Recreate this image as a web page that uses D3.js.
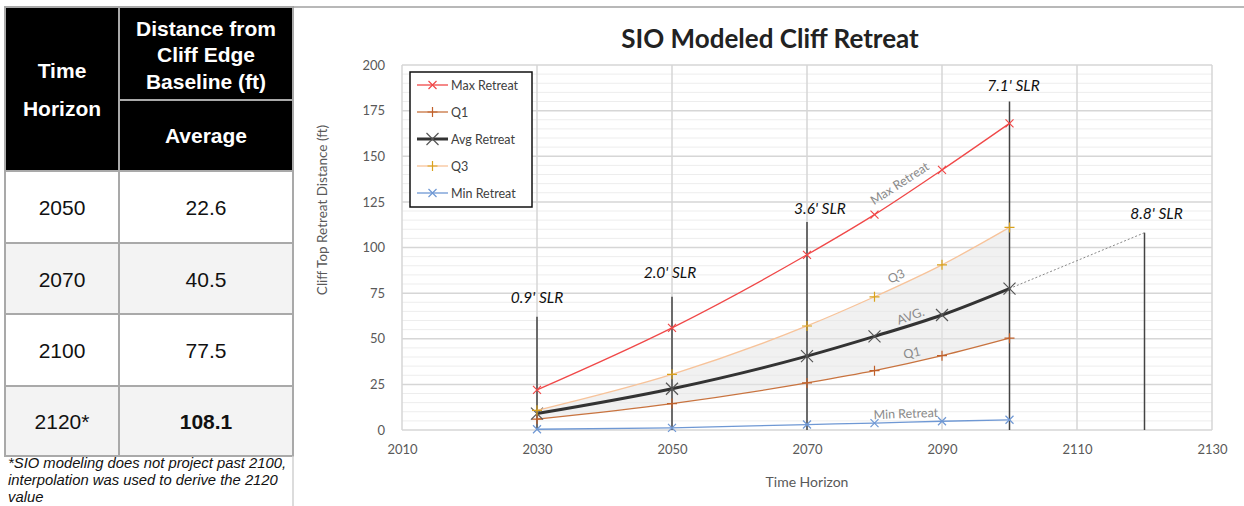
<!DOCTYPE html>
<html>
<head>
<meta charset="utf-8">
<script src="https://cdn.jsdelivr.net/npm/d3@7"></script>
<style>
  body { margin: 0; background: #fff; }
  svg { display: block; }
</style>
</head>
<body>
<svg id="chart" width="1244" height="506"></svg>
<script>
// table data
var tableYears = ["2050", "2070", "2100", "2120*"];
var tableAvg = ["22.6", "40.5", "77.5", "108.1"];

// chart data
var years = [2030, 2050, 2070, 2080, 2090, 2100];
var maxRetreat = [22, 56, 96, 118, 142.5, 168];
var q3 = [10.8, 30.5, 57, 73, 90.5, 111];
var avgRetreat = [9, 22.6, 40.5, 51.3, 63, 77.5];
var q1 = [6, 14.5, 25.8, 32.5, 40.7, 50.3];
var minRetreat = [0.4, 1.2, 3, 3.8, 4.8, 5.6];

var extYears = [2100, 2120];
var extAvg = [77.5, 108.1];

var slrYears = [2030, 2050, 2070, 2100, 2120];
var slrTops = [62, 73, 114, 180, 108.1];
var slrLabels = ["0.9' SLR", "2.0' SLR", "3.6' SLR", "7.1' SLR", "8.8' SLR"];

var xTicks = [2010, 2030, 2050, 2070, 2090, 2110, 2130];
var yTicks = [0, 25, 50, 75, 100, 125, 150, 175, 200];

var svg = d3.select("#chart");

// ---------- table on the left ----------
var tbl = svg.append("g");
var border = "#a9a9a9";
var rowTops = [171, 243, 314, 386];
var rowH = [72, 71, 72, 70];

tbl.append("rect").attr("x", 5).attr("y", 7).attr("width", 288).attr("height", 164).attr("fill", "#000");
rowTops.forEach(function(t, i) {
    tbl.append("rect").attr("x", 5).attr("y", t).attr("width", 288).attr("height", rowH[i])
        .attr("fill", i % 2 == 1 ? "#f3f3f3" : "#fff");
});
// grid lines of the table
tbl.append("rect").attr("x", 5).attr("y", 7).attr("width", 288).attr("height", 449)
    .attr("fill", "none").attr("stroke", border).attr("stroke-width", 2);
tbl.append("line").attr("x1", 119).attr("x2", 119).attr("y1", 7).attr("y2", 456)
    .attr("stroke", border).attr("stroke-width", 2);
tbl.append("line").attr("x1", 119).attr("x2", 293).attr("y1", 100).attr("y2", 100)
    .attr("stroke", border).attr("stroke-width", 2);
rowTops.forEach(function(t) {
    tbl.append("line").attr("x1", 5).attr("x2", 293).attr("y1", t).attr("y2", t)
        .attr("stroke", border).attr("stroke-width", 2);
});
tbl.append("line").attr("x1", 293).attr("x2", 293).attr("y1", 456).attr("y2", 506)
    .attr("stroke", "#d0d0d0").attr("stroke-width", 1.5);

var hdrFont = "'Liberation Sans', Arial, sans-serif";
function hdr(txt, x, y) {
    tbl.append("text").attr("x", x).attr("y", y).attr("text-anchor", "middle")
        .attr("font-family", hdrFont).attr("font-size", 21).attr("font-weight", "bold")
        .attr("fill", "#fff").text(txt);
}
hdr("Time", 62, 78);
hdr("Horizon", 62, 116);
hdr("Distance from", 206, 36);
hdr("Cliff Edge", 206, 62);
hdr("Baseline (ft)", 206, 89);
hdr("Average", 206, 143);

tableYears.forEach(function(yr, i) {
    var cy = rowTops[i] + rowH[i] / 2 + 8;
    tbl.append("text").attr("x", 62).attr("y", cy).attr("text-anchor", "middle")
        .attr("font-family", hdrFont).attr("font-size", 21).attr("fill", "#111").text(yr);
    tbl.append("text").attr("x", 206).attr("y", cy).attr("text-anchor", "middle")
        .attr("font-family", hdrFont).attr("font-size", 21)
        .attr("font-weight", i == tableYears.length - 1 ? "bold" : "normal")
        .attr("fill", "#111").text(tableAvg[i]);
});

var notes = ["*SIO modeling does not project past 2100,", "interpolation was used to derive the 2120", "value"];
notes.forEach(function(n, i) {
    tbl.append("text").attr("x", 8).attr("y", 468 + i * 17)
        .attr("font-family", hdrFont).attr("font-size", 14.8).attr("font-style", "italic")
        .attr("fill", "#111").text(n);
});

// frame line at the top of the chart
svg.append("line").attr("x1", 293).attr("x2", 1244).attr("y1", 7).attr("y2", 7)
    .attr("stroke", "#a0a0a0").attr("stroke-width", 1.5);

// ---------- chart ----------
var font = "Lato, 'Open Sans', sans-serif";
var x = d3.scaleLinear().domain([2010, 2130]).range([402, 1212]);
var y = d3.scaleLinear().domain([0, 200]).range([430, 65]);

var chart = svg.append("g");

// minor grid
chart.append("g").selectAll("line")
    .data(d3.range(0, 201, 5))
    .enter().append("line")
    .attr("x1", x(2010)).attr("x2", x(2130))
    .attr("y1", function(d) { return y(d); }).attr("y2", function(d) { return y(d); })
    .attr("stroke", function(d) { return d % 25 == 0 ? "#d6d6d6" : "#ededed"; })
    .attr("stroke-width", function(d) { return d % 25 == 0 ? 1.5 : 1; });

chart.append("g").selectAll("line")
    .data(xTicks)
    .enter().append("line")
    .attr("x1", function(d) { return x(d); }).attr("x2", function(d) { return x(d); })
    .attr("y1", y(0)).attr("y2", y(200))
    .attr("stroke", "#d6d6d6").attr("stroke-width", 1.5);

// axes
var yAxis = chart.append("g").attr("transform", "translate(" + (x(2010) - 14) + ",0)")
    .call(d3.axisLeft(y).tickValues(yTicks).tickSize(0));
var xAxis = chart.append("g").attr("transform", "translate(0," + (y(0) + 12) + ")")
    .call(d3.axisBottom(x).tickValues(xTicks).tickFormat(d3.format("d")).tickSize(0));
[yAxis, xAxis].forEach(function(a) {
    a.select(".domain").remove();
    a.selectAll("text").attr("font-family", font).attr("font-size", 13).attr("fill", "#595959");
});

chart.append("text").attr("x", 807).attr("y", 487).attr("text-anchor", "middle")
    .attr("font-family", font).attr("font-size", 14).attr("fill", "#595959").text("Time Horizon");
chart.append("text").attr("transform", "translate(327,210) rotate(-90)").attr("text-anchor", "middle")
    .attr("font-family", font).attr("font-size", 13.5).attr("fill", "#595959")
    .text("Cliff Top Retreat Distance (ft)");

chart.append("text").attr("x", 770).attr("y", 48).attr("text-anchor", "middle")
    .attr("font-family", font).attr("font-size", 26).attr("font-weight", "bold")
    .attr("fill", "#222").text("SIO Modeled Cliff Retreat");

// shaded band Q1-Q3
var band = d3.area()
    .x(function(d, i) { return x(years[i]); })
    .y0(function(d, i) { return y(q1[i]); })
    .y1(function(d, i) { return y(q3[i]); })
    .curve(d3.curveMonotoneX);
chart.append("path").attr("d", band(years)).attr("fill", "#e6e6e6").attr("opacity", 0.55);

// SLR marker lines
slrYears.forEach(function(yr, i) {
    chart.append("line").attr("x1", x(yr)).attr("x2", x(yr)).attr("y1", y(0)).attr("y2", y(slrTops[i]))
        .attr("stroke", "#444").attr("stroke-width", 1.5);
});

// dotted interpolation
chart.append("line")
    .attr("x1", x(extYears[0])).attr("y1", y(extAvg[0]))
    .attr("x2", x(extYears[1])).attr("y2", y(extAvg[1]))
    .attr("stroke", "#888").attr("stroke-width", 1).attr("stroke-dasharray", "2,2");

var series = [
    { name: "Max Retreat", values: maxRetreat, color: "#f04848", mcolor: "#f04848", width: 1.3, marker: "x", ms: 4 },
    { name: "Q1", values: q1, color: "#c8733f", mcolor: "#c0602a", width: 1.3, marker: "+", ms: 5 },
    { name: "Avg Retreat", values: avgRetreat, color: "#333333", mcolor: "#555555", width: 3, marker: "x", ms: 6 },
    { name: "Q3", values: q3, color: "#f7c39a", mcolor: "#d9a21c", width: 1.3, marker: "+", ms: 5 },
    { name: "Min Retreat", values: minRetreat, color: "#6f98d4", mcolor: "#6f98d4", width: 1.3, marker: "x", ms: 4 }
];

var line = d3.line()
    .x(function(d, i) { return x(years[i]); })
    .y(function(d) { return y(d); })
    .curve(d3.curveMonotoneX);

function marker(g, type, cx, cy, s, color) {
    if (type == "x") {
        g.append("path").attr("d", "M" + (cx - s) + "," + (cy - s) + "L" + (cx + s) + "," + (cy + s) +
            "M" + (cx - s) + "," + (cy + s) + "L" + (cx + s) + "," + (cy - s))
            .attr("stroke", color).attr("stroke-width", 1.2).attr("fill", "none");
    } else {
        g.append("path").attr("d", "M" + (cx - s) + "," + cy + "L" + (cx + s) + "," + cy +
            "M" + cx + "," + (cy - s) + "L" + cx + "," + (cy + s))
            .attr("stroke", color).attr("stroke-width", 1.2).attr("fill", "none");
    }
}

series.forEach(function(s) {
    chart.append("path").attr("d", line(s.values)).attr("fill", "none")
        .attr("stroke", s.color).attr("stroke-width", s.width);
    var mg = chart.append("g");
    s.values.forEach(function(v, i) {
        marker(mg, s.marker, x(years[i]), y(v), s.ms, s.mcolor);
    });
});

// SLR labels
var slrDx = [0, -2, 13, 4, 12];
var slrDy = [-14, -19, -8, -11, -14];
slrYears.forEach(function(yr, i) {
    chart.append("text").attr("x", x(yr) + slrDx[i]).attr("y", y(slrTops[i]) + slrDy[i])
        .attr("text-anchor", "middle").attr("font-family", font).attr("font-size", 15.5)
        .attr("font-style", "italic").attr("fill", "#111").text(slrLabels[i]);
});

// labels along the lines
var inLabels = [
    { t: "Max Retreat", x: 902, y: 187, r: -33 },
    { t: "Q3", x: 898, y: 280, r: -25 },
    { t: "AVG.", x: 912, y: 320, r: -20 },
    { t: "Q1", x: 913, y: 357, r: -13 },
    { t: "Min Retreat", x: 906, y: 418, r: -2 }
];
inLabels.forEach(function(l) {
    chart.append("text").attr("transform", "translate(" + l.x + "," + l.y + ") rotate(" + l.r + ")")
        .attr("text-anchor", "middle").attr("font-family", font).attr("font-size", 12.5)
        .attr("fill", "#8a8a8a").text(l.t);
});

// legend
var lg = chart.append("g");
lg.append("rect").attr("x", 410).attr("y", 72).attr("width", 122).attr("height", 135)
    .attr("fill", "#fff").attr("stroke", "#111").attr("stroke-width", 1.5);
series.forEach(function(s, i) {
    var ly = 85 + i * 27;
    lg.append("line").attr("x1", 417).attr("x2", 448).attr("y1", ly).attr("y2", ly)
        .attr("stroke", s.color).attr("stroke-width", s.width);
    marker(lg, s.marker, 432.5, ly, s.ms, s.mcolor);
    lg.append("text").attr("x", 451).attr("y", ly + 4.5).attr("font-family", font)
        .attr("font-size", 12.5).attr("fill", "#404040").text(s.name);
});
</script>
</body>
</html>
